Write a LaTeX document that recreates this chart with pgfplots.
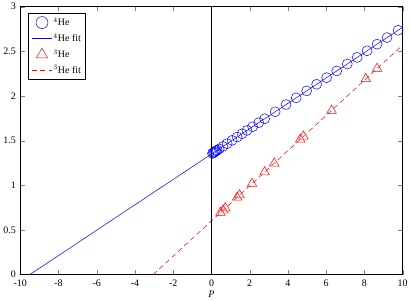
\documentclass[border=0pt]{standalone}
\usepackage{fontspec}
\setmainfont{Liberation Serif}
\usepackage{pgfplots}
\pgfplotsset{compat=1.18}
\definecolor{mBlue}{RGB}{0,0,255}
\definecolor{mRed}{RGB}{255,0,0}

\begin{document}
\begin{tikzpicture}
\begin{axis}[
  scale only axis, width=384pt, height=269pt,
  xmin=-10, xmax=10, ymin=0, ymax=3,
  xtick={-10,-8,...,10}, ytick={0,0.5,...,3},
  tick align=inside, major tick length=4.5pt,
  tick label style={font=\fontsize{10}{11}\selectfont},
  xticklabel style={yshift=-1.5pt},
  yticklabel style={xshift=-1pt},
  /pgf/number format/assume math mode=true,
  xlabel={\textit{P}}, xlabel style={font=\fontsize{10}{11}\selectfont, yshift=2pt},
  axis line style={black, line width=0.5pt},
  legend style={at={(0.021,0.975)}, anchor=north west, draw=black, line width=0.5pt,
    font=\fontsize{10}{11}\selectfont, row sep=4pt, inner sep=3pt,
    nodes={inner sep=1pt}},
  legend image post style={scale=1.2},
  legend cell align=left,
]
\addplot[only marks, mark=o, mark size=5pt, mBlue, mark options={line width=0.5pt}] coordinates {
(0.05,1.357)(0.10,1.364)(0.15,1.371)(0.20,1.378)(0.25,1.386)(0.30,1.393)(0.40,1.407)
(0.60,1.435)(0.82,1.466)(1.08,1.503)(1.34,1.540)(1.60,1.577)(1.86,1.614)(2.15,1.655)
(2.47,1.701)(2.78,1.745)(3.33,1.823)(3.90,1.904)(4.43,1.979)(4.98,2.057)(5.50,2.131)
(6.02,2.205)(6.55,2.280)(7.10,2.358)(7.62,2.432)(8.14,2.506)(8.66,2.580)(9.18,2.654)
(9.76,2.736)};
\addlegendentry{$^{4}$He}
\addplot[mBlue, line width=0.5pt] coordinates {(-9.5,0)(10,2.770)};
\addlegendentry{$^{4}$He fit}
\addplot[only marks, mark=triangle, mark size=5.5pt, mRed, mark options={line width=0.5pt}] coordinates {
(0.47,0.693)(0.61,0.720)(0.73,0.744)(1.34,0.864)(1.47,0.890)(2.12,1.018)(2.78,1.148)
(3.28,1.246)(4.64,1.514)(4.81,1.548)(6.28,1.837)(8.07,2.190)(8.66,2.306)};
\addlegendentry{$^{3}$He}
\addplot[mRed, line width=0.5pt, dash pattern=on 5pt off 3.5pt] coordinates {(-3.05,0)(10,2.570)};
\addlegendentry{$^{3}$He fit}
\addplot[black, line width=0.5pt, forget plot] coordinates {(0,0)(0,3)};
\end{axis}
\end{tikzpicture}
\end{document}
